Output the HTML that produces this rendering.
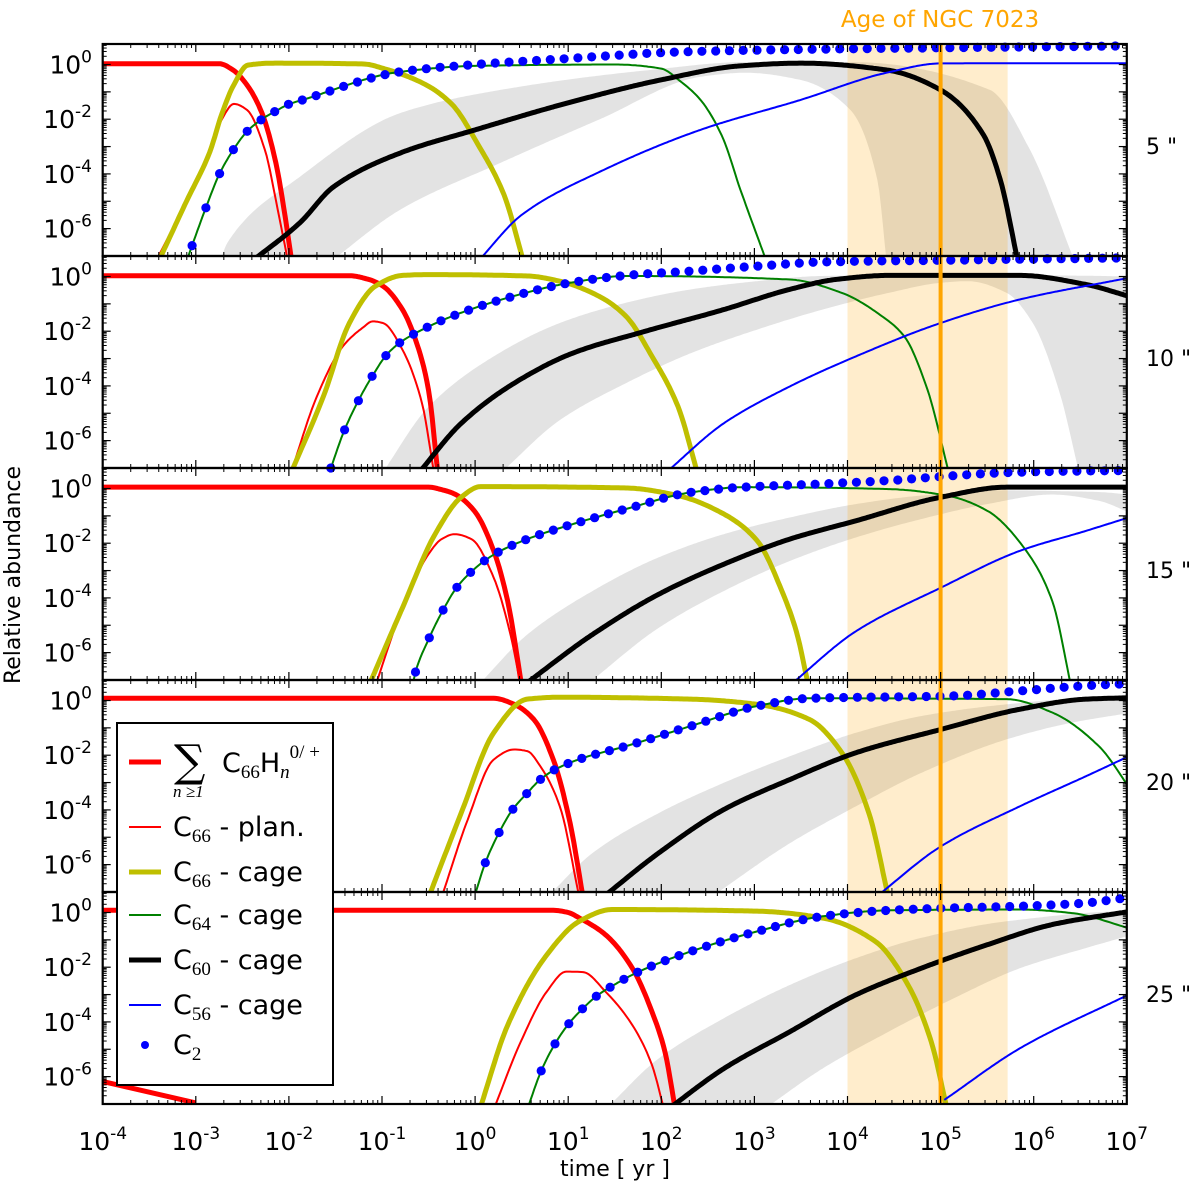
<!DOCTYPE html>
<html><head><meta charset="utf-8"><style>
html,body{margin:0;padding:0;background:#fff;}
svg{display:block;font-family:"DejaVu Sans","Liberation Sans",sans-serif;}
</style></head><body>
<svg id="chart" width="1200" height="1186" viewBox="0 0 1200 1186" xmlns="http://www.w3.org/2000/svg">
<text x="940" y="27" font-size="23" fill="#ffa500" text-anchor="middle">Age of NGC 7023</text>
<text transform="translate(20,575) rotate(-90)" font-size="22" text-anchor="middle">Relative abundance</text>
<text x="615" y="1176" font-size="22" text-anchor="middle">time [ yr ]</text>
<g id="layers"></g>
</svg>
<script>
// ---- data: [log10 time, log10 abundance] ----
const xTickExps = [-4,-3,-2,-1,0,1,2,3,4,5,6,7];
const yTickExps = [0,-2,-4,-6];
const panelLabels = ['5 "','10 "','15 "','20 "','25 "'];
const ageBand = [4, 5.72];
const ageLine = 5;

const p1_red = [[-4,0.03],[-2.75,0.03],[-2.6,-0.2],[-2.45,-0.75],[-2.29,-1.77],[-2.14,-3.6],[-2.04,-5.57],[-1.97,-7.2]];
const p1_plan = [[-3.43,-7.2],[-3.1,-5.0],[-2.85,-3.2],[-2.72,-2.0],[-2.59,-1.44],[-2.45,-1.66],[-2.26,-3.1],[-2.12,-5.3],[-2.01,-7.2]];
const p1_cage66 = [[-3.4,-7.2],[-3.1,-5.0],[-2.85,-3.2],[-2.72,-1.8],[-2.6,-0.8],[-2.44,-0.02],[-2.15,0.05],[-1.2,0.02],[-0.96,-0.17],[-0.54,-0.72],[-0.25,-1.45],[0.03,-2.92],[0.31,-4.76],[0.52,-7.2]];
const p1_c64 = [[-3.1,-7.2],[-3.04,-6.62],[-2.89,-5.22],[-2.75,-4.03],[-2.59,-3.08],[-2.45,-2.45],[-2.29,-2.0],[-2.14,-1.7],[-2.0,-1.45],[-1.85,-1.29],[-0.81,-0.27],[0,-0.05],[1.5,0],[2.0,-0.15],[2.2,-0.6],[2.42,-1.29],[2.65,-2.6],[2.85,-4.58],[3.13,-7.2]];
const p1_c60 = [[-2.4,-7.2],[-1.88,-5.78],[-1.52,-4.47],[-0.8,-3.23],[0,-2.39],[1,-1.4],[2,-0.56],[2.85,-0.05],[3.5,0.05],[4.42,-0.2],[5.0,-0.93],[5.46,-2.57],[5.64,-4.2],[5.83,-7.2]];
const p1_c56 = [[0.03,-7.2],[0.5,-5.5],[1.34,-3.92],[2.42,-2.39],[3.5,-1.29],[4.42,-0.3],[5.0,0.04],[7.1,0.05]];
const p1_c2 = [[-3.04,-6.62],[-2.89,-5.22],[-2.75,-4.03],[-2.59,-3.08],[-2.45,-2.45],[-2.29,-2.0],[-2.14,-1.7],[-2.0,-1.45],[-1.85,-1.29],[-0.81,-0.27],[0,0.0],[0.91,0.2],[2.2,0.46],[3.5,0.55],[7,0.68]];
const p1_grayOuter = [[-2.74,-7.2],[-2.66,-6.51],[-1.88,-4.1],[-0.8,-1.77],[0.27,-0.93],[1.88,-0.2],[2.91,0.09],[4.03,0.09],[5.53,-0.93],[5.96,-3.12],[6.44,-7.2]];
const p1_grayInner = [[-1.55,-7.2],[-0.8,-5.3],[0.27,-3.6],[1.34,-2.0],[2.42,-0.45],[2.9,-0.3],[3.49,-0.56],[4.03,-1.66],[4.32,-4.21],[4.42,-7.2]];

const p2_red = [[-4,0.03],[-1.35,0.03],[-1.15,-0.1],[-0.99,-0.35],[-0.78,-1.21],[-0.64,-2.31],[-0.5,-4.15],[-0.4,-7.2]];
const p2_plan = [[-1.98,-7.2],[-1.7,-4.39],[-1.42,-2.55],[-1.21,-1.88],[-1.1,-1.64],[-0.99,-1.7],[-0.78,-2.68],[-0.57,-4.64],[-0.44,-7.2]];
const p2_cage66 = [[-1.98,-7.2],[-1.63,-4.39],[-1.35,-1.7],[-1.07,-0.35],[-0.78,0.04],[-0.5,0.07],[0.56,0.02],[0.91,-0.17],[1.33,-0.72],[1.62,-1.45],[1.9,-2.92],[2.18,-4.76],[2.39,-7.2]];
const p2_c64 = [[-1.57,-7.2],[-1.4,-5.59],[-1.24,-4.45],[-1.09,-3.56],[-0.95,-2.86],[-0.8,-2.4],[-0.64,-2.07],[-0.2,-1.39],[0.39,-0.74],[0.99,-0.25],[1.62,0.02],[3.38,-0.11],[3.94,-0.6],[4.37,-1.45],[4.61,-2.19],[4.86,-4.15],[5.09,-7.2]];
const p2_c60 = [[-0.61,-7.2],[-0.15,-5.37],[0.42,-3.9],[1.05,-2.8],[1.83,-2.0],[2.67,-1.21],[3.38,-0.47],[3.87,-0.11],[4.44,0.04],[5.85,0.04],[6.56,-0.29],[7.02,-0.72]];
const p2_c56 = [[2.04,-7.2],[2.67,-5.37],[3.38,-4.02],[4.09,-2.92],[5.0,-1.7],[5.85,-0.84],[7.02,-0.05]];
const p2_c2 = [[-1.55,-7],[-1.4,-5.59],[-1.24,-4.45],[-1.09,-3.56],[-0.95,-2.86],[-0.8,-2.4],[-0.64,-2.07],[-0.2,-1.39],[0.39,-0.74],[0.99,-0.25],[1.62,0.04],[2.32,0.2],[3.03,0.38],[3.73,0.53],[5.14,0.6],[7,0.68]];
const p2_grayOuter = [[-1.0,-7.2],[-0.5,-4.76],[0.2,-2.92],[0.91,-1.7],[1.62,-0.96],[2.32,-0.47],[3.03,-0.17],[3.73,0.02],[5.0,0.05],[7.05,0.0],[7.06,-7.2]];
const p2_grayInner = [[0.27,-7.2],[0.91,-5.25],[1.62,-3.9],[2.32,-2.8],[3.03,-1.94],[3.73,-1.21],[4.44,-0.6],[5.0,-0.23],[5.29,-0.17],[5.71,-0.6],[5.99,-1.7],[6.27,-4.15],[6.49,-7.2]];

const p3_red = [[-4,0.05],[-0.5,0.05],[-0.35,-0.05],[-0.22,-0.2],[-0.01,-0.81],[0.2,-2.28],[0.35,-4.12],[0.5,-7.2]];
const p3_plan = [[-1.07,-7.2],[-0.78,-4.36],[-0.5,-2.4],[-0.36,-1.85],[-0.22,-1.67],[-0.04,-1.85],[0.2,-3.26],[0.38,-5.34],[0.49,-7.2]];
const p3_cage66 = [[-1.14,-7.2],[-0.78,-4.36],[-0.43,-1.67],[-0.15,-0.32],[0.06,0.07],[1.62,0.02],[2.18,-0.26],[2.67,-0.93],[3.03,-1.91],[3.31,-3.87],[3.45,-5.22],[3.58,-7.2]];
const p3_c64 = [[-0.67,-7.2],[-0.64,-6.71],[-0.5,-5.52],[-0.35,-4.48],[-0.2,-3.63],[-0.04,-3.04],[0.11,-2.62],[0.25,-2.32],[0.56,-1.85],[1.05,-1.3],[1.62,-0.75],[2.32,-0.14],[2.89,0.05],[4.44,-0.02],[5.07,-0.26],[5.5,-0.81],[5.92,-2.28],[6.2,-4.12],[6.4,-7.2]];
const p3_c60 = [[0.52,-7.2],[1.26,-5.34],[1.97,-3.87],[2.67,-2.77],[3.38,-1.85],[4.09,-1.18],[5.0,-0.32],[5.71,0.05],[7.02,0.05]];
const p3_c56 = [[3.38,-7.2],[4.09,-5.22],[5.0,-3.63],[5.85,-2.28],[6.56,-1.55],[7.02,-1.06]];
const p3_c2 = [[-0.64,-6.71],[-0.5,-5.52],[-0.35,-4.48],[-0.2,-3.63],[-0.04,-3.04],[0.11,-2.62],[0.25,-2.32],[0.56,-1.85],[1.05,-1.3],[1.62,-0.75],[2.32,-0.14],[2.89,0.05],[3.73,0.17],[4.44,0.29],[5.14,0.47],[5.85,0.6],[7,0.66]];
const p3_grayOuter = [[0.03,-7.2],[0.56,-5.34],[1.26,-3.75],[1.97,-2.52],[2.67,-1.67],[3.38,-1.06],[4.09,-0.57],[4.79,-0.26],[5.71,-0.07],[6.34,-0.1],[7.05,-0.26],[7.06,-0.93]];
const p3_grayInner = [[1.19,-7.2],[1.97,-5.1],[2.67,-3.75],[3.38,-2.65],[4.09,-1.79],[4.79,-1.12],[5.5,-0.57],[6.2,-0.22],[6.7,-0.45],[7.06,-0.93]];

const p4_red = [[-4,0.08],[0.2,0.08],[0.42,-0.14],[0.63,-0.69],[0.84,-2.16],[1.02,-4.48],[1.16,-7.2]];
const p4_plan = [[-0.36,-7.2],[-0.08,-4.36],[0.2,-2.16],[0.42,-1.79],[0.56,-1.85],[0.7,-2.4],[0.91,-3.87],[1.12,-7.2]];
const p4_cage66 = [[-0.5,-7.2],[-0.15,-4.12],[0.2,-1.18],[0.56,0.05],[0.91,0.12],[2.32,0.05],[3.03,-0.14],[3.59,-0.69],[3.94,-1.91],[4.23,-4.12],[4.44,-7.2]];
const p4_c64 = [[-0.01,-7.2],[0.11,-5.93],[0.25,-4.88],[0.4,-4.0],[0.56,-3.38],[0.7,-2.89],[0.86,-2.52],[1.16,-2.1],[1.62,-1.67],[2.32,-0.93],[3.03,-0.2],[3.59,0.08],[5.71,0.05],[6.2,-0.44],[6.7,-1.67],[7.05,-3.3]];
const p4_c60 = [[1.37,-7.2],[1.97,-5.58],[2.67,-3.99],[3.38,-2.89],[4.09,-1.91],[5.0,-1.06],[5.85,-0.32],[6.56,0.05],[7.02,0.1]];
const p4_c56 = [[4.3,-7.2],[5.0,-5.34],[5.85,-3.87],[6.56,-2.77],[7.02,-2.04]];
const p4_c2 = [[0.11,-5.93],[0.25,-4.88],[0.4,-4.0],[0.56,-3.38],[0.7,-2.89],[0.86,-2.52],[1.16,-2.1],[1.62,-1.67],[2.32,-0.93],[3.03,-0.2],[3.59,0.08],[5.14,0.17],[5.85,0.35],[6.56,0.54],[7,0.62]];
const p4_grayOuter = [[0.77,-7.2],[1.26,-5.58],[1.97,-4.12],[2.67,-3.01],[3.38,-2.04],[4.09,-1.18],[4.79,-0.57],[5.71,-0.14],[6.41,0.05],[7.05,0.07],[7.06,-0.44]];
const p4_grayInner = [[2.53,-7.2],[3.38,-5.22],[4.09,-3.87],[4.79,-2.65],[5.71,-1.42],[6.41,-0.81],[7.06,-0.44]];

const p5_red = [[-4,0.08],[0.84,0.08],[1.0,0.0],[1.12,-0.2],[1.4,-0.81],[1.69,-2.04],[1.9,-3.63],[2.04,-5.1],[2.15,-7.2]];
const p5_redTail = [[-4.05,-6.14],[-3.0,-6.96]];
const p5_plan = [[0.2,-7.2],[0.49,-4.73],[0.77,-2.89],[0.98,-2.16],[1.16,-2.18],[1.4,-2.89],[1.69,-4.12],[1.9,-5.58],[2.03,-7.2]];
const p5_cage66 = [[0.05,-7.2],[0.35,-4.12],[0.77,-1.55],[1.12,-0.32],[1.47,0.11],[3.03,0.05],[3.73,-0.2],[4.3,-1.06],[4.65,-2.65],[4.9,-4.73],[5.07,-7.2]];
const p5_c64 = [[0.56,-7.2],[0.71,-5.79],[0.85,-4.85],[1.0,-4.09],[1.16,-3.5],[1.31,-3.04],[1.46,-2.71],[1.76,-2.16],[2.32,-1.42],[3.03,-0.69],[3.73,-0.14],[4.44,0.08],[5.85,0.11],[6.41,-0.02],[7.05,-0.6]];
const p5_c60 = [[2.07,-7.2],[2.67,-5.71],[3.38,-4.36],[4.09,-3.01],[4.79,-2.04],[5.5,-1.18],[6.2,-0.44],[7.05,0.05]];
const p5_c56 = [[5.04,-6.85],[5.85,-4.97],[7.05,-2.95]];
const p5_c2 = [[0.71,-5.79],[0.85,-4.85],[1.0,-4.09],[1.16,-3.5],[1.31,-3.04],[1.46,-2.71],[1.76,-2.16],[2.32,-1.42],[3.03,-0.69],[3.73,-0.14],[4.44,0.08],[5.14,0.17],[5.85,0.23],[6.56,0.35],[7,0.54]];
const p5_grayOuter = [[1.4,-7.2],[1.97,-5.34],[2.67,-3.87],[3.38,-2.65],[4.09,-1.67],[4.79,-0.93],[5.71,-0.32],[7.05,0.05],[7.06,-0.81]];
const p5_grayInner = [[3.1,-7.2],[3.73,-5.71],[4.44,-4.36],[5.14,-3.14],[5.85,-2.04],[6.56,-1.3],[7.06,-0.81]];

const panelsData = [
 {red:p1_red, plan:p1_plan, cage66:p1_cage66, c64:p1_c64, c60:p1_c60, c56:p1_c56, c2:p1_c2, gO:p1_grayOuter, gI:p1_grayInner},
 {red:p2_red, plan:p2_plan, cage66:p2_cage66, c64:p2_c64, c60:p2_c60, c56:p2_c56, c2:p2_c2, gO:p2_grayOuter, gI:p2_grayInner},
 {red:p3_red, plan:p3_plan, cage66:p3_cage66, c64:p3_c64, c60:p3_c60, c56:p3_c56, c2:p3_c2, gO:p3_grayOuter, gI:p3_grayInner},
 {red:p4_red, plan:p4_plan, cage66:p4_cage66, c64:p4_c64, c60:p4_c60, c56:p4_c56, c2:p4_c2, gO:p4_grayOuter, gI:p4_grayInner},
 {red:p5_red, plan:p5_plan, cage66:p5_cage66, c64:p5_c64, c60:p5_c60, c56:p5_c56, c2:p5_c2, gO:p5_grayOuter, gI:p5_grayInner, tail:p5_redTail}
];

// ---- geometry ----
const X0 = 102.7, DX = 93.1, LTMIN = -4, LTMAX = 7;
const TOP0 = 44, PH = 212, YTOP = 0.75, DY = 27.35;
const XR = X0 + (LTMAX - LTMIN) * DX;
function xs(lt){ return X0 + (lt - LTMIN) * DX; }
function ys(k, ly){ return TOP0 + k * PH + (YTOP - ly) * DY; }
const NS = 'http://www.w3.org/2000/svg';
const root = document.getElementById('layers');
function el(tag, attrs, parent){
  const e = document.createElementNS(NS, tag);
  for (const a in attrs) e.setAttribute(a, attrs[a]);
  (parent || root).appendChild(e);
  return e;
}
// monotone cubic (Fritsch-Carlson) sampling in log space
function sampleCurve(arr){
  const n = arr.length;
  if (n < 3) return arr.slice();
  const x = arr.map(p => p[0]), y = arr.map(p => p[1]);
  const h = [], s = [];
  for (let i = 0; i < n-1; i++){ h.push(x[i+1]-x[i]); s.push((y[i+1]-y[i])/h[i]); }
  const m = new Array(n);
  m[0] = s[0]; m[n-1] = s[n-2];
  for (let i = 1; i < n-1; i++){
    if (s[i-1]*s[i] <= 0) m[i] = 0;
    else { const w1 = 2*h[i]+h[i-1], w2 = h[i]+2*h[i-1]; m[i] = (w1+w2)/(w1/s[i-1]+w2/s[i]); }
  }
  const out = [];
  for (let i = 0; i < n-1; i++){
    const steps = Math.max(2, Math.ceil(h[i]/0.02));
    for (let j = 0; j < steps; j++){
      const t = j/steps, t2 = t*t, t3 = t2*t;
      const v = (2*t3-3*t2+1)*y[i] + (t3-2*t2+t)*h[i]*m[i] + (-2*t3+3*t2)*y[i+1] + (t3-t2)*h[i]*m[i+1];
      out.push([x[i]+t*h[i], v]);
    }
  }
  out.push(arr[n-1]);
  return out;
}
function pts(k, arr){ return arr.map(p => xs(p[0]).toFixed(1) + ',' + ys(k, p[1]).toFixed(1)).join(' '); }
function interp(arr, lt){
  if (lt <= arr[0][0]) return arr[0][1];
  for (let i = 1; i < arr.length; i++){
    if (lt <= arr[i][0]){ const a = arr[i-1], b = arr[i]; return a[1] + (b[1]-a[1]) * (lt-a[0]) / (b[0]-a[0]); }
  }
  return arr[arr.length-1][1];
}

const defs = el('defs', {});
panelsData.forEach((d, k) => {
  const top = TOP0 + k * PH;
  const cp = el('clipPath', {id: 'clip' + k}, defs);
  el('rect', {x: X0, y: top, width: XR - X0, height: PH}, cp);
  const g = el('g', {'clip-path': 'url(#clip' + k + ')'});
  
  

  const poly = sampleCurve(d.gO).concat(sampleCurve(d.gI).reverse());
  const band = el('polygon', {points: pts(k, poly), fill: '#e3e3e3'}, g);
  
  

  const ob = el('rect', {x: xs(ageBand[0]), y: top, width: xs(ageBand[1]) - xs(ageBand[0]), height: PH, fill: 'rgba(255,165,0,0.2)'}, g);
  
  

  const series = [
    ['red', '#ff0000', 5, 'sum-c66hn-line'],
    ['plan', '#ff0000', 2, 'c66-planar-line'],
    ['cage66', '#bfbf00', 5, 'c66-cage-line'],
    ['c64', '#008000', 2, 'c64-cage-line'],
    ['c60', '#000000', 5, 'c60-cage-line'],
    ['c56', '#0000ff', 2, 'c56-cage-line']
  ];
  series.forEach(s => {
    const l = el('polyline', {points: pts(k, sampleCurve(d[s[0]])), fill: 'none', stroke: s[1], 'stroke-width': s[2], 'stroke-linejoin': 'round'}, g);
    
    
  });
  if (d.tail){
    const t = el('polyline', {points: pts(k, d.tail), fill: 'none', stroke: '#ff0000', 'stroke-width': 5}, g);
    
    
  }
});

// C2 dots (not clipped vertically)
panelsData.forEach((d, k) => {
  const dg = el('g', {});
  
  
  const curve = sampleCurve(d.c2);
  for (let lt = d.c2[0][0]; lt <= 7.02; lt += 0.148){
    const c = el('circle', {cx: xs(lt).toFixed(1), cy: ys(k, interp(curve, lt)).toFixed(1), r: 4.6, fill: '#0000ff'}, dg);
    
    
  }
});

// age line
const al = el('line', {x1: xs(ageLine), x2: xs(ageLine), y1: TOP0, y2: TOP0 + 5 * PH, stroke: '#ffa500', 'stroke-width': 4});



// axes, ticks, labels
for (let k = 0; k < 5; k++){
  const top = TOP0 + k * PH, bot = top + PH;
  const ax = el('g', {stroke: '#000', fill: 'none'});
  
  
  el('rect', {x: X0, y: top, width: XR - X0, height: PH, 'stroke-width': 2.2}, ax);
  for (let e = LTMIN; e <= LTMAX; e++){
    const x = xs(e);
    el('line', {x1: x, x2: x, y1: bot, y2: bot - 8, 'stroke-width': 1.2}, ax);
    el('line', {x1: x, x2: x, y1: top, y2: top + 8, 'stroke-width': 1.2}, ax);
    if (e < LTMAX) for (let m = 2; m < 10; m++){
      const xm = xs(e + Math.log10(m));
      el('line', {x1: xm, x2: xm, y1: bot, y2: bot - 4, 'stroke-width': 1}, ax);
      el('line', {x1: xm, x2: xm, y1: top, y2: top + 4, 'stroke-width': 1}, ax);
    }
  }
  for (let e = -7; e <= 0; e++){
    const y = ys(k, e);
    el('line', {x1: X0, x2: X0 + 8, y1: y, y2: y, 'stroke-width': 1.2}, ax);
    el('line', {x1: XR, x2: XR - 8, y1: y, y2: y, 'stroke-width': 1.2}, ax);
    for (let m = 2; m < 10; m++){
      const ym = ys(k, e + Math.log10(m));
      if (ym < top) continue;
      el('line', {x1: X0, x2: X0 + 4, y1: ym, y2: ym, 'stroke-width': 1}, ax);
      el('line', {x1: XR, x2: XR - 4, y1: ym, y2: ym, 'stroke-width': 1}, ax);
    }
  }
  yTickExps.forEach(e => {
    const t = el('text', {x: 92, y: ys(k, e) + 9, 'font-size': 25, 'text-anchor': 'end', fill: '#000'});
    
    
    t.textContent = '10';
    const sp = el('tspan', {'font-size': 17, dy: -11}, t);
    sp.textContent = e === 0 ? '0' : '-' + (-e);
  });
  const pl = el('text', {x: 1146, y: top + 110, 'font-size': 22, fill: '#000'});
  
  
  pl.textContent = panelLabels[k];
}
xTickExps.forEach(e => {
  const t = el('text', {x: xs(e), y: 1150, 'font-size': 25, 'text-anchor': 'middle', fill: '#000'});
  
  
  t.textContent = '10';
  const sp = el('tspan', {'font-size': 17, dy: -11}, t);
  sp.textContent = String(e);
});

// legend
const lg = el('g', {});


el('rect', {x: 117, y: 723, width: 216, height: 362, fill: '#fff', stroke: '#000', 'stroke-width': 2}, lg);
const legItems = [
  [762, '#ff0000', 5, 'line'], [827, '#ff0000', 2, 'line'], [872, '#bfbf00', 5, 'line'],
  [915, '#008000', 2, 'line'], [960, '#000', 5, 'line'], [1005, '#0000ff', 2, 'line'], [1045, '#0000ff', 0, 'dot']
];
legItems.forEach(it => {
  let s;
  if (it[3] === 'line') s = el('line', {x1: 129, x2: 161, y1: it[0], y2: it[0], stroke: it[1], 'stroke-width': it[2]}, lg);
  else s = el('circle', {cx: 145, cy: it[0], r: 4, fill: it[1]}, lg);
  
  
});
</script>
<div style="position:absolute;left:0;top:0;width:1200px;height:1186px;pointer-events:none;">
<svg width="1200" height="1186" style="position:absolute;left:0;top:0" font-family="DejaVu Sans, Liberation Sans, sans-serif">
<g>
<text x="174" y="776" font-size="44" font-family="DejaVu Serif, Liberation Serif, serif">∑</text>
<text x="173" y="797" font-size="17" font-style="italic" font-family="Liberation Serif, serif">n ≥1</text>
<text x="222" y="772" font-size="27">C<tspan font-size="19" dy="6" font-family="Liberation Serif, serif">66</tspan><tspan dy="-6">H</tspan><tspan font-size="19" dy="6" font-style="italic" font-family="Liberation Serif, serif">n</tspan><tspan font-size="19" dy="-20" font-family="Liberation Serif, serif">0/ +</tspan></text>
</g>
<text x="173" y="836" font-size="27">C<tspan font-size="19" dy="6" font-family="Liberation Serif, serif">66</tspan><tspan dy="-6"> - plan.</tspan></text>
<text x="173" y="881" font-size="27">C<tspan font-size="19" dy="6" font-family="Liberation Serif, serif">66</tspan><tspan dy="-6"> - cage</tspan></text>
<text x="173" y="924" font-size="27">C<tspan font-size="19" dy="6" font-family="Liberation Serif, serif">64</tspan><tspan dy="-6"> - cage</tspan></text>
<text x="173" y="969" font-size="27">C<tspan font-size="19" dy="6" font-family="Liberation Serif, serif">60</tspan><tspan dy="-6"> - cage</tspan></text>
<text x="173" y="1014" font-size="27">C<tspan font-size="19" dy="6" font-family="Liberation Serif, serif">56</tspan><tspan dy="-6"> - cage</tspan></text>
<text x="173" y="1054" font-size="27">C<tspan font-size="19" dy="6" font-family="Liberation Serif, serif">2</tspan></text>
</svg>
</div>
</body></html>
